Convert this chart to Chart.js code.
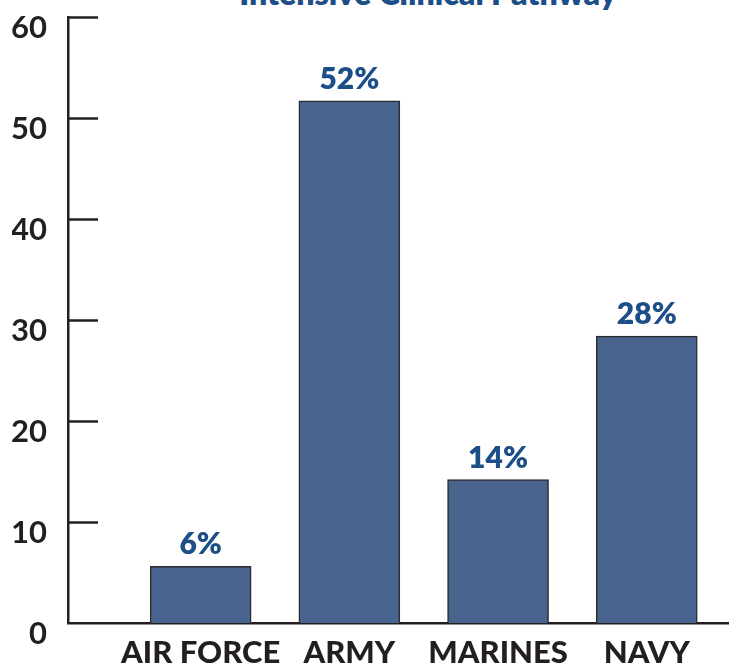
<!DOCTYPE html>
<html>
<head>
<meta charset="utf-8">
<script src="https://cdn.jsdelivr.net/npm/chart.js@4.4.0/dist/chart.umd.min.js"></script>
<style>
  html, body { margin: 0; padding: 0; background: #fff; }
  #wrap { position: relative; width: 729px; height: 668px; overflow: hidden; }
  #title { position: absolute; left: 428px; top: -22px; transform: translateX(-50%);
           font: 800 32px Lato, sans-serif; line-height: 30px; color: #1C4E87; white-space: nowrap; }
  canvas { position: absolute; left: 0; top: 0; }
</style>
</head>
<body>
<div id="wrap">
  <div id="title">Intensive Clinical Pathway</div>
  <canvas id="c" width="729" height="668"></canvas>
</div>
<script>
const titleText = "Intensive Clinical Pathway";
const categories = ["AIR FORCE", "ARMY", "MARINES", "NAVY"];
const values = [5.6, 51.7, 14.2, 28.4];
const yTicks = [0, 10, 20, 30, 40, 50, 60];

document.getElementById('title').textContent = titleText;

const positions = categories.map((_, i) => i + 1);
const points = positions.map((x, i) => ({ x: x, y: values[i] }));

const inwardTicks = {
  id: 'inwardTicks',
  afterDatasetsDraw(chart) {
    const y = chart.scales.y;
    const ctx = chart.ctx;
    ctx.save();
    ctx.strokeStyle = '#231F20';
    ctx.lineWidth = 2.5;
    y.ticks.forEach((t) => {
      if (t.value === 0) return;
      const py = Math.round(y.getPixelForValue(t.value)) + 0.5;
      ctx.beginPath();
      ctx.moveTo(chart.chartArea.left, py);
      ctx.lineTo(chart.chartArea.left + 30, py);
      ctx.stroke();
    });
    ctx.restore();
  }
};

const valueLabels = {
  id: 'valueLabels',
  afterDatasetsDraw(chart) {
    const meta = chart.getDatasetMeta(0);
    const ctx = chart.ctx;
    ctx.save();
    ctx.font = '800 30px Lato, sans-serif';
    ctx.fillStyle = '#1C4E87';
    ctx.textAlign = 'center';
    ctx.textBaseline = 'alphabetic';
    meta.data.forEach((bar, i) => {
      ctx.fillText(Math.round(values[i]) + '%', bar.x, bar.y - 12);
    });
    ctx.restore();
  }
};

new Chart(document.getElementById('c'), {
  type: 'bar',
  data: {
    datasets: [{
      data: points,
      backgroundColor: '#49638F',
      borderColor: '#2B2B2B',
      borderWidth: 1.5,
      barThickness: 101
    }]
  },
  options: {
    responsive: false,
    animation: false,
    layout: { padding: { left: 12, top: 17, right: 0, bottom: 0 } },
    plugins: { legend: { display: false }, title: { display: false }, tooltip: { enabled: false } },
    scales: {
      x: {
        type: 'linear',
        offset: false,
        min: 0.108,
        max: 4.553,
        afterBuildTicks(scale) { scale.ticks = positions.map(v => ({ value: v })); },
        afterFit(scale) { scale.height = 45; scale.paddingLeft = 0; scale.paddingRight = 0; },
        grid: { display: false, drawTicks: false, offset: false },
        border: { display: true, color: '#231F20', width: 2.5 },
        ticks: {
          autoSkip: false,
          maxRotation: 0,
          padding: 11,
          color: '#231F20',
          font: { family: 'Lato', size: 31, weight: '900' },
          callback: (v) => categories[Math.round(v) - 1] || ''
        }
      },
      y: {
        min: 0,
        max: 60,
        afterBuildTicks(scale) { scale.ticks = yTicks.map(v => ({ value: v })); },
        afterFit(scale) { scale.width = 56; scale.paddingTop = 0; scale.paddingBottom = 0; },
        grid: { display: false, drawTicks: false },
        border: { display: true, color: '#231F20', width: 2.5 },
        ticks: {
          padding: 21,
          labelOffset: 11,
          color: '#231F20',
          font: { family: 'Lato', size: 31, weight: '700' }
        }
      }
    }
  },
  plugins: [inwardTicks, valueLabels]
});
</script>
</body>
</html>
